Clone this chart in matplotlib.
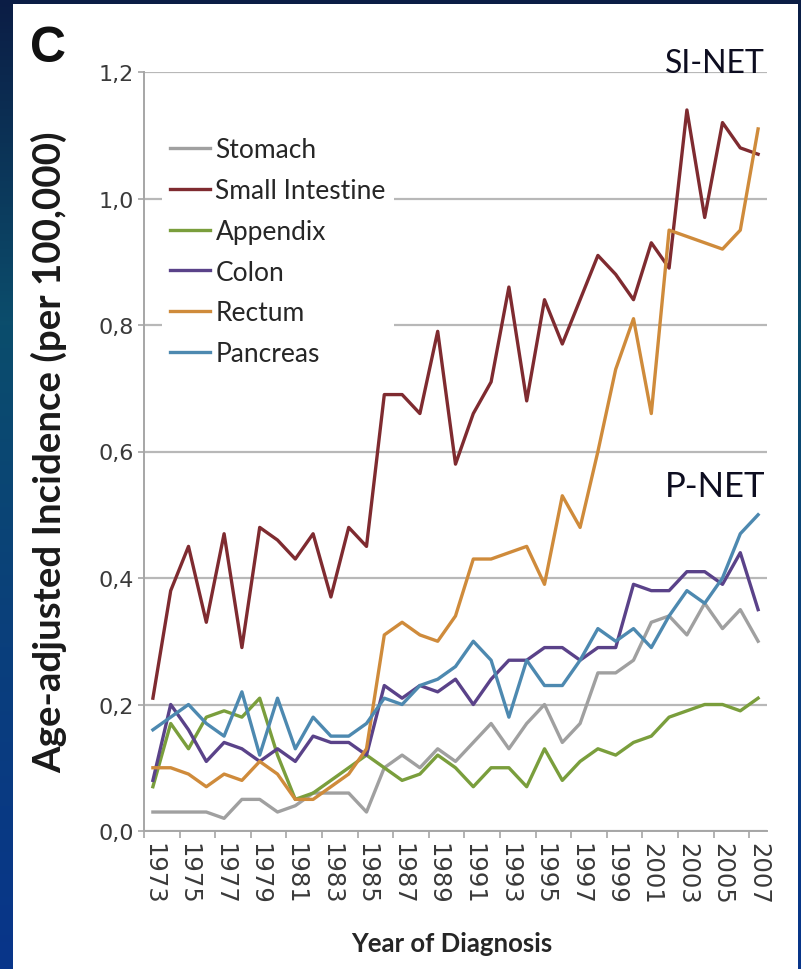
import numpy as np
import matplotlib.pyplot as plt
from matplotlib.patches import Rectangle
from matplotlib.colors import LinearSegmentedColormap
from matplotlib.ticker import FuncFormatter

# Age-adjusted incidence per 100,000 by primary site, 1973-2007
years = list(range(1973, 2008))

stomach = [0.03, 0.03, 0.03, 0.03, 0.02, 0.05, 0.05, 0.03, 0.04, 0.06,
           0.06, 0.06, 0.03, 0.10, 0.12, 0.10, 0.13, 0.11, 0.14, 0.17,
           0.13, 0.17, 0.20, 0.14, 0.17, 0.25, 0.25, 0.27, 0.33, 0.34,
           0.31, 0.36, 0.32, 0.35, 0.30]
small_intestine = [0.21, 0.38, 0.45, 0.33, 0.47, 0.29, 0.48, 0.46, 0.43, 0.47,
                   0.37, 0.48, 0.45, 0.69, 0.69, 0.66, 0.79, 0.58, 0.66, 0.71,
                   0.86, 0.68, 0.84, 0.77, 0.84, 0.91, 0.88, 0.84, 0.93, 0.89,
                   1.14, 0.97, 1.12, 1.08, 1.07]
appendix = [0.07, 0.17, 0.13, 0.18, 0.19, 0.18, 0.21, 0.12, 0.05, 0.06,
            0.08, 0.10, 0.12, 0.10, 0.08, 0.09, 0.12, 0.10, 0.07, 0.10,
            0.10, 0.07, 0.13, 0.08, 0.11, 0.13, 0.12, 0.14, 0.15, 0.18,
            0.19, 0.20, 0.20, 0.19, 0.21]
colon = [0.08, 0.20, 0.16, 0.11, 0.14, 0.13, 0.11, 0.13, 0.11, 0.15,
         0.14, 0.14, 0.12, 0.23, 0.21, 0.23, 0.22, 0.24, 0.20, 0.24,
         0.27, 0.27, 0.29, 0.29, 0.27, 0.29, 0.29, 0.39, 0.38, 0.38,
         0.41, 0.41, 0.39, 0.44, 0.35]
rectum = [0.10, 0.10, 0.09, 0.07, 0.09, 0.08, 0.11, 0.09, 0.05, 0.05,
          0.07, 0.09, 0.13, 0.31, 0.33, 0.31, 0.30, 0.34, 0.43, 0.43,
          0.44, 0.45, 0.39, 0.53, 0.48, 0.60, 0.73, 0.81, 0.66, 0.95,
          0.94, 0.93, 0.92, 0.95, 1.11]
pancreas = [0.16, 0.18, 0.20, 0.17, 0.15, 0.22, 0.12, 0.21, 0.13, 0.18,
            0.15, 0.15, 0.17, 0.21, 0.20, 0.23, 0.24, 0.26, 0.30, 0.27,
            0.18, 0.27, 0.23, 0.23, 0.27, 0.32, 0.30, 0.32, 0.29, 0.34,
            0.38, 0.36, 0.40, 0.47, 0.50]

site_names = ['Stomach', 'Small Intestine', 'Appendix', 'Colon', 'Rectum', 'Pancreas']
site_values = [stomach, small_intestine, appendix, colon, rectum, pancreas]
site_colors = ['#a0a0a0', '#7f2b30', '#7a9e3c', '#5a4289', '#cf8b3b', '#4d89b0']

W, H = 801, 970
fig = plt.figure(figsize=(W / 100, H / 100), dpi=100)

# slide background with a white panel on top
bg = fig.add_axes([0, 0, 1, 1], zorder=-2)
bg_cmap = LinearSegmentedColormap.from_list(
    'slide', ['#0b1d45', '#0b4d6c', '#0a3f7c', '#08358a'])
bg.imshow(np.linspace(0, 1, 256).reshape(-1, 1), cmap=bg_cmap, aspect='auto',
          extent=[0, 1, 0, 1], origin='upper')
bg.add_patch(Rectangle((13 / W, 0), (798 - 13) / W, 965 / H,
                       facecolor='white', edgecolor='none'))
bg.set_xlim(0, 1)
bg.set_ylim(0, 1)
bg.axis('off')

ax = fig.add_axes([144 / W, 138 / H, 623 / W, 759 / H])
ax.set_facecolor('white')

for name, vals, col in zip(site_names, site_values, site_colors):
    ax.plot(years, vals, color=col, lw=2.4, label=name)

ax.set_xlim(1972.5, 2007.5)
ax.set_ylim(0, 1.2)

# y axis
ax.set_yticks(np.arange(0, 1.21, 0.2))
ax.yaxis.set_major_formatter(FuncFormatter(lambda v, p: f'{v:.1f}'.replace('.', ',')))
ax.grid(axis='y', color='#b8b8b8', lw=1.6)
ax.set_axisbelow(True)
ax.tick_params(axis='y', length=4, width=1.2, color='#a6a6a6', pad=3,
               labelsize=16, labelcolor='#3a3a3a')

# x axis: a label every second year, tick marks between category pairs
ax.set_xticks(years[::2])
ax.set_xticklabels([str(y) for y in years[::2]], rotation=-90)
ax.set_xticks(np.arange(1972.5, 2007, 2), minor=True)
ax.tick_params(axis='x', which='major', length=0, pad=8,
               labelsize=17.5, labelcolor='#3a3a3a')
ax.tick_params(axis='x', which='minor', length=5, width=1.2, color='#a6a6a6')

for side in ['top', 'right']:
    ax.spines[side].set_visible(False)
for side in ['left', 'bottom']:
    ax.spines[side].set_color('#a6a6a6')
    ax.spines[side].set_linewidth(1.4)

title_font = dict(family=['Lato', 'DejaVu Sans'], fontweight='bold')
ylab = ax.set_ylabel('Age-adjusted Incidence (per 100,000)', fontsize=30,
                     color='#1a1a1a', **title_font)
ax.yaxis.set_label_coords(-0.124, 0.5)
xlab = ax.set_xlabel('Year of Diagnosis', fontsize=19, color='#262626', **title_font)
ax.xaxis.set_label_coords(0.494, -0.132)


def fit_length(txt, target_px, vertical=False):
    # shrink or grow a text so that its long side spans target_px
    fig.canvas.draw()
    bb = txt.get_window_extent()
    size = bb.height if vertical else bb.width
    txt.set_fontsize(txt.get_fontsize() * target_px / size)


fit_length(ylab, 640, vertical=True)
fit_length(xlab, 200)

leg = ax.legend(loc='upper left', bbox_to_anchor=(0.008, 0.942),
                frameon=True, facecolor='white', edgecolor='none', framealpha=1,
                fancybox=False, handlelength=1.5, handletextpad=0.22,
                labelspacing=0.60, borderpad=0.3,
                prop={'family': ['Lato', 'DejaVu Sans'], 'size': 19})
leg.get_frame().set_linewidth(0)
for t in leg.get_texts():
    t.set_color('#262626')

fig.text(30 / W, (H - 62) / H, 'C', fontsize=36, fontweight='bold',
         family=['Liberation Sans', 'DejaVu Sans'], color='#111111', va='baseline')
fig.text(765 / W, (H - 73) / H, 'SI-NET', fontsize=23,
         family=['Lato', 'DejaVu Sans'], color='#0d0d20', ha='right', va='baseline')
fig.text(765 / W, (H - 497) / H, 'P-NET', fontsize=25,
         family=['Lato', 'DejaVu Sans'], color='#0d0d20', ha='right', va='baseline')

fig.savefig('out.png', dpi=100)
